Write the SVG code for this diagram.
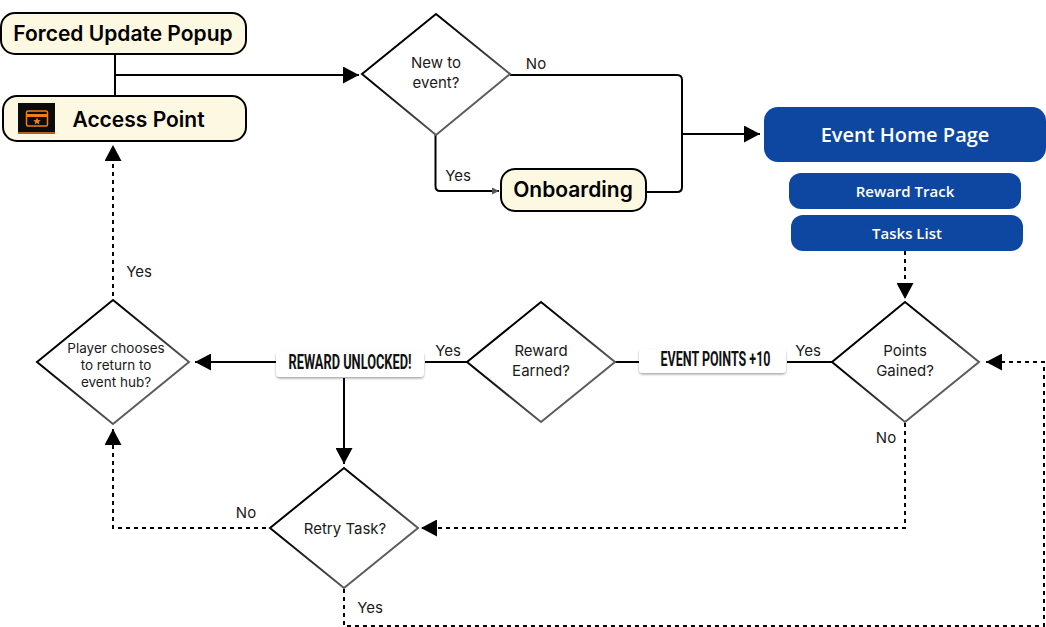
<svg xmlns="http://www.w3.org/2000/svg" width="1046" height="627" viewBox="0 0 1046 627">
<style>
.cream{fill:#fdf8e1;stroke:#000;stroke-width:2}
.dia{fill:#fff;stroke:url(#dg);stroke-width:2}
.blue{fill:#0d47a1}
.line{fill:none;stroke:#000;stroke-width:2}
.dash{fill:none;stroke:#000;stroke-width:2;stroke-dasharray:4 4}
.t{font-family:"Inter","Noto Sans","Liberation Sans",sans-serif;fill:#1a1a1a;font-size:15px;text-anchor:middle}
.b{font-weight:600;fill:#000;font-size:21px}
.w{font-family:"Open Sans","Noto Sans",sans-serif;fill:#fff;font-weight:600;text-anchor:middle}
.tag{fill:#fff;filter:url(#sh)}
.tl{font-family:"Roboto","Liberation Sans",sans-serif;font-weight:700;font-size:20px;fill:#111;text-anchor:middle}
</style>
<defs>
<linearGradient id="dg" x1="0" y1="0" x2="1" y2="1"><stop offset="0.3" stop-color="#000"/><stop offset="0.8" stop-color="#666"/></linearGradient>
<filter id="sh" x="-10%" y="-30%" width="120%" height="170%"><feDropShadow dx="0" dy="1.5" stdDeviation="1" flood-color="#000" flood-opacity="0.35"/></filter>
<marker id="ah" markerUnits="userSpaceOnUse" markerWidth="17" markerHeight="17" refX="16" refY="8.5" orient="auto"><path d="M0,0L16,8.5L0,17Z" fill="#000"/></marker>
<marker id="ahs" markerUnits="userSpaceOnUse" markerWidth="8" markerHeight="8" refX="7" refY="4" orient="auto"><path d="M0,0.5L7,4L0,7.5Z" fill="#555"/></marker>
</defs>
<g id="connectors">
<path class="line" d="M115 55V96"/>
<path class="line" marker-end="url(#ah)" d="M115 75H359"/>
<path class="line" d="M510 75H677Q682 75 682 80V187Q682 192 677 192H647"/>
<path class="line" marker-end="url(#ah)" d="M682 134H760"/>
<path class="line" marker-end="url(#ahs)" d="M435.500 135V186Q435.500 191 440 191H499"/>
<path class="dash" marker-end="url(#ah)" d="M905 251V299"/>
<path class="line" d="M832 362H787M639 362H615M467 362H425"/>
<path class="line" marker-end="url(#ah)" d="M276 362H195"/>
<path class="line" marker-end="url(#ah)" d="M344 378V464"/>
<path class="dash" marker-end="url(#ah)" d="M113 296V145"/>
<path class="dash" marker-end="url(#ah)" d="M905 423V528H421"/>
<path class="dash" marker-end="url(#ah)" d="M266 528H113V429"/>
<path class="dash" marker-end="url(#ah)" d="M344 589V626H1044V362H986"/>
</g>
<g id="forced-update"><rect class="cream" x="1" y="13" width="245" height="41" rx="14"/><text class="t b" x="123" y="41">Forced Update Popup</text></g>
<g id="access-point"><rect class="cream" x="3" y="96" width="243" height="45" rx="14"/>
<rect x="18" y="103" width="37" height="31" fill="#0c0c0c"/><path d="M18 133H55" stroke="#f07d1a" stroke-width="1.500"/>
<rect x="26.500" y="111" width="21" height="15" rx="1.500" fill="none" stroke="#f07d1a" stroke-width="1.500"/><path d="M26.500 115.500H47.500" stroke="#f07d1a" stroke-width="3"/>
<path d="M37 117.500l1.100 2.400 2.600.3-1.900 1.700.5 2.500-2.300-1.300-2.300 1.300.5-2.500-1.900-1.700 2.600-.3z" fill="#f07d1a"/>
<text class="t b" x="138.500" y="127">Access Point</text></g>
<g id="new-to-event"><path class="dia" d="M436 14L510 74L436 135L362 74Z"/><text class="t" x="436" y="68">New to</text><text class="t" x="436" y="88">event?</text></g>
<g id="onboarding"><rect class="cream" x="501" y="169" width="145" height="42" rx="14"/><text class="t b" x="573" y="197">Onboarding</text></g>
<g id="event-home"><rect class="blue" x="764" y="107" width="282" height="55" rx="14"/><text class="w" x="905" y="142" font-size="20">Event Home Page</text></g>
<g id="reward-track"><rect class="blue" x="789" y="173" width="232" height="36" rx="12"/><text class="w" x="905" y="197" font-size="15">Reward Track</text></g>
<g id="tasks-list"><rect class="blue" x="791" y="215" width="232" height="36" rx="12"/><text class="w" x="907" y="239" font-size="15">Tasks List</text></g>
<g id="points-gained"><path class="dia" d="M905 302L979 362L905 422L832 362Z"/><text class="t" x="905" y="356">Points</text><text class="t" x="905" y="376">Gained?</text></g>
<g id="event-points"><rect class="tag" x="639" y="349" width="147" height="24" rx="4"/><text class="tl" x="715.500" y="366" textLength="110" lengthAdjust="spacingAndGlyphs">EVENT POINTS +10</text></g>
<g id="reward-earned"><path class="dia" d="M541 302L615 362L541 422L467 362Z"/><text class="t" x="541" y="356">Reward</text><text class="t" x="541" y="376">Earned?</text></g>
<g id="reward-unlocked"><rect class="tag" x="276" y="351" width="148" height="26" rx="4"/><text class="tl" x="350" y="369" textLength="123" lengthAdjust="spacingAndGlyphs">REWARD UNLOCKED!</text></g>
<g id="player-chooses"><path class="dia" d="M113 300L189 362L113 424L37 362Z"/><text class="t" style="font-size:13.500px" x="116" y="353">Player chooses</text><text class="t" style="font-size:13.500px" x="116" y="370">to return to</text><text class="t" style="font-size:13.500px" x="116" y="387">event hub?</text></g>
<g id="retry-task"><path class="dia" d="M344 468L418 528L344 588L270 528Z"/><text class="t" x="345" y="534">Retry Task?</text></g>
<g id="edge-labels">
<text class="t" x="536" y="69">No</text><text class="t" x="458" y="181">Yes</text><text class="t" x="139" y="277">Yes</text>
<text class="t" x="448" y="356">Yes</text><text class="t" x="808" y="356">Yes</text><text class="t" x="886" y="443">No</text>
<text class="t" x="246" y="518">No</text><text class="t" x="370" y="613">Yes</text>
</g>
</svg>
